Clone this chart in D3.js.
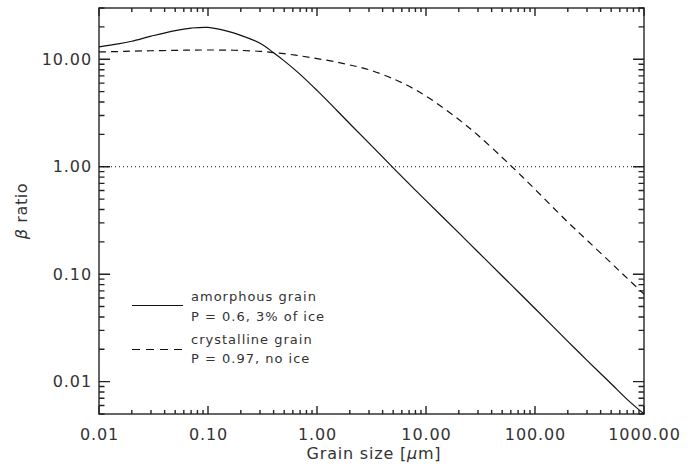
<!DOCTYPE html>
<html>
<head>
<meta charset="utf-8">
<script src="https://cdn.jsdelivr.net/npm/d3@7"></script>
<style>
  html, body { margin: 0; padding: 0; background: #fff; }
  svg { display: block; }
  text { font-family: "DejaVu Sans", sans-serif; fill: #333; }
</style>
</head>
<body>
<svg id="chart" width="696" height="466"></svg>
<script>
// ---- data ----
const sizes = [0.01, 0.015, 0.02, 0.03, 0.05, 0.07, 0.1, 0.15, 0.2, 0.3, 0.4, 0.5, 0.7,
               1, 1.5, 2, 3, 5, 7, 10, 20, 30, 50, 70, 100, 200, 300, 500, 700, 1000];
const amorphous = [13.06, 13.9, 14.72, 16.4, 18.5, 19.5, 19.8, 18.3, 16.7, 14.1, 11.5, 9.66, 7.24,
                   5.13, 3.39, 2.51, 1.66, 0.977, 0.692, 0.484, 0.242, 0.161, 0.0962, 0.0687, 0.0479,
                   0.0237, 0.0158, 0.00955, 0.00684, 0.0050];
const crystalline = [11.7, 11.8, 11.9, 12.0, 12.1, 12.16, 12.2, 12.16, 12.08, 11.86, 11.53, 11.27, 10.76,
                     10.14, 9.44, 8.85, 8.0, 6.58, 5.6, 4.55, 2.75, 1.96, 1.22, 0.881, 0.617,
                     0.305, 0.207, 0.127, 0.0918, 0.0652];
const referenceLevel = [1];
const xTickValues = [0.01, 0.1, 1, 10, 100, 1000];
const xTickLabels = ["0.01", "0.10", "1.00", "10.00", "100.00", "1000.00"];
const yTickValues = [0.01, 0.1, 1, 10];
const yTickLabels = ["0.01", "0.10", "1.00", "10.00"];
const legendLine1 = ["amorphous grain", "P = 0.6, 3% of ice"];
const legendLine2 = ["crystalline grain", "P = 0.97, no ice"];

// ---- layout ----
const svg = d3.select("#chart");
const L = 99, R = 644, T = 8, B = 414;
const x = d3.scaleLog().domain([0.01, 1000]).range([L, R]);
const y = d3.scaleLog().domain([0.005, 30]).range([B, T]);

function minors(lo, hi) {
  const out = [];
  for (let e = -4; e <= 4; e++) {
    for (let m = 2; m <= 9; m++) {
      const v = +(m * Math.pow(10, e)).toPrecision(6);
      if (v >= lo * 0.9999 && v <= hi * 1.0001) out.push(v);
    }
  }
  return out;
}
const xMinor = minors(0.01, 1000);
const yMinor = minors(0.005, 30);

const axisColor = "#333";
const tickFont = g => g.selectAll(".tick text")
  .style("font-family", "'DejaVu Sans', sans-serif")
  .style("font-size", "16px")
  .style("letter-spacing", "0.9px")
  .attr("fill", "#333");

// tick labels through d3 axes
svg.append("g").attr("transform", `translate(0,${B})`)
  .call(d3.axisBottom(x).tickValues(xTickValues).tickSize(0).tickPadding(15)
        .tickFormat((d, i) => xTickLabels[i]))
  .call(g => g.select(".domain").remove())
  .call(tickFont);
svg.append("g").attr("transform", `translate(${L},0)`)
  .call(d3.axisLeft(y).tickValues(yTickValues).tickSize(0).tickPadding(7)
        .tickFormat((d, i) => yTickLabels[i]))
  .call(g => g.select(".domain").remove())
  .call(tickFont);

// frame
svg.append("rect").attr("x", L).attr("y", T).attr("width", R - L).attr("height", B - T)
  .attr("fill", "none").attr("stroke", axisColor).attr("stroke-width", 1.5);

// tick marks (inward, on all four sides) drawn as one path
let dTicks = "";
xTickValues.forEach(v => { const px = x(v);
  dTicks += `M${px},${B}V${B - 8}M${px},${T}V${T + 8}`; });
xMinor.forEach(v => { const px = x(v);
  dTicks += `M${px},${B}V${B - 4}M${px},${T}V${T + 4}`; });
yTickValues.forEach(v => { const py = y(v);
  dTicks += `M${L},${py}H${L + 11}M${R},${py}H${R - 11}`; });
yMinor.forEach(v => { const py = y(v);
  dTicks += `M${L},${py}H${L + 5.5}M${R},${py}H${R - 5.5}`; });
svg.append("path").attr("d", dTicks).attr("fill", "none")
  .attr("stroke", "#222").attr("stroke-width", 1.4);

// reference line at beta = 1
svg.selectAll(".ref").data(referenceLevel).enter().append("line")
  .attr("x1", L).attr("x2", R).attr("y1", d => y(d)).attr("y2", d => y(d))
  .attr("stroke", "#111").attr("stroke-width", 1).attr("stroke-dasharray", "1,3");

// curves
const line = d3.line().x(d => x(d[0])).y(d => y(d[1])).curve(d3.curveCatmullRom.alpha(0.5));
svg.append("path").datum(sizes.map((s, i) => [s, amorphous[i]]))
  .attr("d", line).attr("fill", "none").attr("stroke", "#111").attr("stroke-width", 1.2);
svg.append("path").datum(sizes.map((s, i) => [s, crystalline[i]]))
  .attr("d", line).attr("fill", "none").attr("stroke", "#111").attr("stroke-width", 1.2)
  .attr("stroke-dasharray", "7,5");

// legend
const lg = svg.append("g");
lg.append("line").attr("x1", 132).attr("x2", 183).attr("y1", 305.5).attr("y2", 305.5)
  .attr("stroke", "#111").attr("stroke-width", 1.2);
lg.append("line").attr("x1", 132).attr("x2", 183).attr("y1", 349.5).attr("y2", 349.5)
  .attr("stroke", "#111").attr("stroke-width", 1.2).attr("stroke-dasharray", "8,6");
const legendStyle = t => t.style("font-size", "13px").style("letter-spacing", "1px");
lg.append("text").attr("x", 191).attr("y", 301).text(legendLine1[0]).call(legendStyle);
lg.append("text").attr("x", 191).attr("y", 321).text(legendLine1[1]).call(legendStyle);
lg.append("text").attr("x", 191).attr("y", 344).text(legendLine2[0]).call(legendStyle);
lg.append("text").attr("x", 191).attr("y", 363).text(legendLine2[1]).call(legendStyle);

// axis titles
const xt = svg.append("text").attr("x", 374).attr("y", 459)
  .attr("text-anchor", "middle").style("font-size", "16px").style("letter-spacing", "0.8px");
xt.append("tspan").text("Grain size [");
xt.append("tspan").style("font-style", "italic").text("\u03bc");
xt.append("tspan").text("m]");

const yt = svg.append("text").attr("transform", `translate(27,${(T + B) / 2}) rotate(-90)`)
  .attr("text-anchor", "middle").style("font-size", "16px").style("letter-spacing", "0.6px");
yt.append("tspan").style("font-style", "italic").text("\u03b2");
yt.append("tspan").text(" ratio");
</script>
</body>
</html>
